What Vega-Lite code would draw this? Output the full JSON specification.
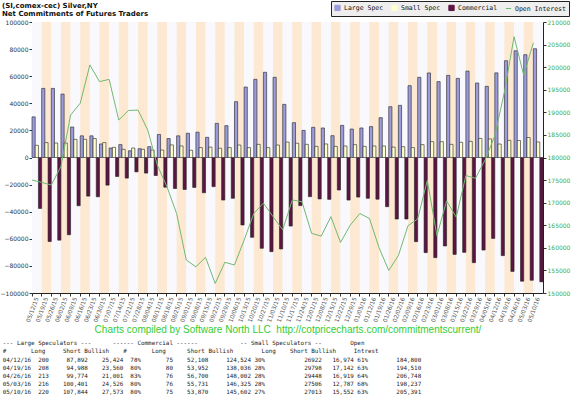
{
  "$schema": "https://vega.github.io/schema/vega-lite/v6.json",
  "width": 511,
  "height": 271,
  "autosize": "none",
  "padding": {"left": 32, "top": 22, "right": 33, "bottom": 104},
  "background": "white",
  "title": {
    "text": ["(SI,comex-cec) Silver,NY", "Net Commitments of Futures Traders"],
    "anchor": "start", "frame": "group", "dx": -30, "offset": -16.5,
    "font": "DejaVu Sans", "fontSize": 7, "fontWeight": "bold", "lineHeight": 8.5, "color": "#111"
  },
  "datasets": {
    "cot": [
      {"date": "05/12/15", "large": 30000, "small": 9000, "commercial": -37600, "oi": 175000},
      {"date": "05/19/15", "large": 51000, "small": 11000, "commercial": -62000, "oi": 174500},
      {"date": "05/26/15", "large": 51000, "small": 10700, "commercial": -61000, "oi": 173900},
      {"date": "06/02/15", "large": 46800, "small": 10700, "commercial": -57000, "oi": 178000},
      {"date": "06/09/15", "large": 22500, "small": 13400, "commercial": -35600, "oi": 189400},
      {"date": "06/16/15", "large": 16000, "small": 13400, "commercial": -28500, "oi": 192000},
      {"date": "06/23/15", "large": 16000, "small": 14000, "commercial": -29000, "oi": 200500},
      {"date": "06/30/15", "large": 10000, "small": 11000, "commercial": -20400, "oi": 196800},
      {"date": "07/07/15", "large": 7000, "small": 7500, "commercial": -14000, "oi": 197300},
      {"date": "07/14/15", "large": 9500, "small": 6000, "commercial": -15200, "oi": 188300},
      {"date": "07/21/15", "large": 5000, "small": 7000, "commercial": -10600, "oi": 190400},
      {"date": "07/28/15", "large": 6500, "small": 6000, "commercial": -11500, "oi": 190500},
      {"date": "08/04/15", "large": 8000, "small": 5500, "commercial": -13300, "oi": 186100},
      {"date": "08/11/15", "large": 17000, "small": 5500, "commercial": -21900, "oi": 178300},
      {"date": "08/18/15", "large": 14000, "small": 9300, "commercial": -22900, "oi": 173500},
      {"date": "08/25/15", "large": 16000, "small": 8500, "commercial": -23600, "oi": 167600},
      {"date": "09/01/15", "large": 17900, "small": 5300, "commercial": -22100, "oi": 157300},
      {"date": "09/08/15", "large": 18700, "small": 7300, "commercial": -26000, "oi": 155800},
      {"date": "09/15/15", "large": 14900, "small": 7700, "commercial": -21500, "oi": 157900},
      {"date": "09/22/15", "large": 25200, "small": 6800, "commercial": -31400, "oi": 152100},
      {"date": "09/29/15", "large": 23500, "small": 7300, "commercial": -30100, "oi": 156800},
      {"date": "10/06/15", "large": 41200, "small": 9200, "commercial": -49800, "oi": 156200},
      {"date": "10/13/15", "large": 52000, "small": 7300, "commercial": -58900, "oi": 161700},
      {"date": "10/20/15", "large": 57700, "small": 9700, "commercial": -67000, "oi": 167600},
      {"date": "10/27/15", "large": 62900, "small": 7300, "commercial": -69500, "oi": 169900},
      {"date": "11/03/15", "large": 59200, "small": 9200, "commercial": -67500, "oi": 166900},
      {"date": "11/10/15", "large": 39200, "small": 11400, "commercial": -50600, "oi": 164000},
      {"date": "11/17/15", "large": 25700, "small": 10500, "commercial": -35500, "oi": 170600},
      {"date": "11/24/15", "large": 20000, "small": 9700, "commercial": -28900, "oi": 170200},
      {"date": "12/01/15", "large": 22300, "small": 8200, "commercial": -30600, "oi": 163200},
      {"date": "12/08/15", "large": 21800, "small": 10000, "commercial": -30900, "oi": 162600},
      {"date": "12/15/15", "large": 16100, "small": 8200, "commercial": -24000, "oi": 166900},
      {"date": "12/22/15", "large": 23700, "small": 8500, "commercial": -31400, "oi": 161200},
      {"date": "12/29/15", "large": 21000, "small": 9500, "commercial": -29200, "oi": 165000},
      {"date": "01/05/16", "large": 21800, "small": 8200, "commercial": -30100, "oi": 167600},
      {"date": "01/12/16", "large": 22800, "small": 8500, "commercial": -30800, "oi": 166500},
      {"date": "01/19/16", "large": 29400, "small": 8500, "commercial": -36300, "oi": 160000},
      {"date": "01/26/16", "large": 37500, "small": 7700, "commercial": -45400, "oi": 155000},
      {"date": "02/02/16", "large": 38500, "small": 8000, "commercial": -45400, "oi": 158300},
      {"date": "02/09/16", "large": 53000, "small": 7300, "commercial": -62100, "oi": 164900},
      {"date": "02/16/16", "large": 59200, "small": 9500, "commercial": -70200, "oi": 166400},
      {"date": "02/23/16", "large": 62400, "small": 11700, "commercial": -73900, "oi": 174900},
      {"date": "03/01/16", "large": 56000, "small": 11700, "commercial": -65300, "oi": 162700},
      {"date": "03/08/16", "large": 60600, "small": 9700, "commercial": -71500, "oi": 170400},
      {"date": "03/15/16", "large": 58400, "small": 11200, "commercial": -70000, "oi": 166800},
      {"date": "03/22/16", "large": 63800, "small": 11900, "commercial": -77600, "oi": 176000},
      {"date": "03/29/16", "large": 55000, "small": 14100, "commercial": -68300, "oi": 175400},
      {"date": "04/05/16", "large": 52500, "small": 13700, "commercial": -59700, "oi": 179500},
      {"date": "04/12/16", "large": 62468, "small": 9948, "commercial": -72416, "oi": 184800},
      {"date": "04/19/16", "large": 71428, "small": 12656, "commercial": -84084, "oi": 194510},
      {"date": "04/26/16", "large": 78773, "small": 12529, "commercial": -91302, "oi": 206748},
      {"date": "05/03/16", "large": 75875, "small": 14719, "commercial": -90594, "oi": 198237},
      {"date": "05/10/16", "large": 80271, "small": 11461, "commercial": -91732, "oi": 205391}
    ],
    "table": [
      {"row": 0, "text": "\u00a0\u00a0\u00a0\u00a0\u00a0\u00a0\u00a0\u00a0\u00a0\u00a0\u00a0\u00a0\u00a0\u00a0\u00a0\u00a0---\u00a0Large\u00a0Speculators\u00a0---\u00a0\u00a0\u00a0\u00a0\u00a0\u00a0------\u00a0Commercial\u00a0------\u00a0\u00a0\u00a0\u00a0\u00a0\u00a0\u00a0\u00a0\u00a0\u00a0\u00a0\u00a0--\u00a0Small\u00a0Speculators\u00a0--\u00a0\u00a0\u00a0\u00a0\u00a0\u00a0\u00a0\u00a0Open"},
      {"row": 1, "text": "\u00a0\u00a0\u00a0\u00a0\u00a0\u00a0\u00a0\u00a0\u00a0\u00a0\u00a0\u00a0#\u00a0\u00a0\u00a0\u00a0\u00a0\u00a0\u00a0Long\u00a0\u00a0\u00a0\u00a0\u00a0Short\u00a0Bullish\u00a0\u00a0\u00a0\u00a0#\u00a0\u00a0\u00a0\u00a0\u00a0\u00a0\u00a0Long\u00a0\u00a0\u00a0\u00a0\u00a0\u00a0Short\u00a0Bullish\u00a0\u00a0\u00a0\u00a0\u00a0\u00a0\u00a0\u00a0Long\u00a0\u00a0\u00a0\u00a0Short\u00a0Bullish\u00a0\u00a0\u00a0\u00a0\u00a0Intrest"},
      {"row": 2, "text": "04/12/16\u00a0\u00a0200\u00a0\u00a0\u00a0\u00a0\u00a087,892\u00a0\u00a0\u00a0\u00a025,424\u00a0\u00a078%\u00a0\u00a0\u00a0\u00a0\u00a0\u00a0\u00a075\u00a0\u00a0\u00a0\u00a052,108\u00a0\u00a0\u00a0\u00a0\u00a0124,524\u00a030%\u00a0\u00a0\u00a0\u00a0\u00a0\u00a0\u00a0\u00a0\u00a0\u00a0\u00a026922\u00a0\u00a0\u00a016,974\u00a061%\u00a0\u00a0\u00a0\u00a0\u00a0\u00a0\u00a0\u00a0184,800"},
      {"row": 3, "text": "04/19/16\u00a0\u00a0208\u00a0\u00a0\u00a0\u00a0\u00a094,988\u00a0\u00a0\u00a0\u00a023,560\u00a0\u00a080%\u00a0\u00a0\u00a0\u00a0\u00a0\u00a0\u00a080\u00a0\u00a0\u00a0\u00a053,952\u00a0\u00a0\u00a0\u00a0\u00a0138,036\u00a028%\u00a0\u00a0\u00a0\u00a0\u00a0\u00a0\u00a0\u00a0\u00a0\u00a0\u00a029798\u00a0\u00a0\u00a017,142\u00a063%\u00a0\u00a0\u00a0\u00a0\u00a0\u00a0\u00a0\u00a0194,510"},
      {"row": 4, "text": "04/26/16\u00a0\u00a0213\u00a0\u00a0\u00a0\u00a0\u00a099,774\u00a0\u00a0\u00a0\u00a021,001\u00a0\u00a083%\u00a0\u00a0\u00a0\u00a0\u00a0\u00a0\u00a076\u00a0\u00a0\u00a0\u00a056,700\u00a0\u00a0\u00a0\u00a0\u00a0148,002\u00a028%\u00a0\u00a0\u00a0\u00a0\u00a0\u00a0\u00a0\u00a0\u00a0\u00a0\u00a029448\u00a0\u00a0\u00a016,919\u00a064%\u00a0\u00a0\u00a0\u00a0\u00a0\u00a0\u00a0\u00a0206,748"},
      {"row": 5, "text": "05/03/16\u00a0\u00a0216\u00a0\u00a0\u00a0\u00a0100,401\u00a0\u00a0\u00a0\u00a024,526\u00a0\u00a080%\u00a0\u00a0\u00a0\u00a0\u00a0\u00a0\u00a076\u00a0\u00a0\u00a0\u00a055,731\u00a0\u00a0\u00a0\u00a0\u00a0146,325\u00a028%\u00a0\u00a0\u00a0\u00a0\u00a0\u00a0\u00a0\u00a0\u00a0\u00a0\u00a027506\u00a0\u00a0\u00a012,787\u00a068%\u00a0\u00a0\u00a0\u00a0\u00a0\u00a0\u00a0\u00a0198,237"},
      {"row": 6, "text": "05/10/16\u00a0\u00a0220\u00a0\u00a0\u00a0\u00a0107,844\u00a0\u00a0\u00a0\u00a027,573\u00a0\u00a080%\u00a0\u00a0\u00a0\u00a0\u00a0\u00a0\u00a075\u00a0\u00a0\u00a0\u00a053,870\u00a0\u00a0\u00a0\u00a0\u00a0145,602\u00a027%\u00a0\u00a0\u00a0\u00a0\u00a0\u00a0\u00a0\u00a0\u00a0\u00a0\u00a027013\u00a0\u00a0\u00a015,552\u00a063%\u00a0\u00a0\u00a0\u00a0\u00a0\u00a0\u00a0\u00a0205,391"}
    ]
  },
  "data": {"name": "cot"},
  "config": {
    "view": {"stroke": null, "fill": "#f9f9fd"},
    "scale": {"bandPaddingInner": 0, "bandPaddingOuter": 0},
    "axis": {"labelFont": "DejaVu Sans", "labelFontSize": 6, "labelColor": "#333", "tickColor": "#333", "domainColor": "#222", "tickSize": 3, "labelPadding": 1, "labelOverlap": false},
    "axisX": {"bandPosition": 0, "labelAngle": -70, "labelAlign": "right", "labelBaseline": "middle", "labelColor": "#555", "labelFontSize": 5.8, "grid": false,
      "titleColor": "#33cc33", "titleFont": "Liberation Sans", "titleFontSize": 10, "titleFontWeight": "normal", "titlePadding": 2}
  },
  "layer": [
    {
      "layer": [
        {
          "layer": [
            {
              "transform": [
                {"window": [{"op": "row_number", "as": "idx"}]}
              ],
              "mark": {"type": "bar"},
              "encoding": {
                "x": {"field": "date", "type": "ordinal", "sort": null, "title": "Charts compiled by Software North LLC\u00a0\u00a0http://cotpricecharts.com/commitmentscurrent/"},
                "y": {"datum": 100000, "type": "quantitative", "scale": {"domain": [-100000, 100000], "nice": false},
                  "axis": {"values": [-100000, -80000, -60000, -40000, -20000, 0, 20000, 40000, 60000, 80000, 100000], "format": "d", "title": null, "grid": true, "gridColor": "#d8d8d8", "gridWidth": 0.5, "labelOverlap": false}},
                "y2": {"datum": -100000},
                "color": {"condition": {"test": "datum.idx % 2 == 0", "value": "#fde9d2"}, "value": "#f9f9fd"}
              }
            },
            {
              "transform": [
                {"fold": ["large", "small", "commercial"], "as": ["series", "net"]}
              ],
              "mark": {"type": "bar", "stroke": "#222", "strokeWidth": 0.6},
              "encoding": {
                "x": {"field": "date", "type": "ordinal", "sort": null, "title": "Charts compiled by Software North LLC\u00a0\u00a0http://cotpricecharts.com/commitmentscurrent/"},
                "xOffset": {"field": "series", "type": "nominal", "sort": ["large", "small", "commercial"]},
                "y": {"field": "net", "type": "quantitative",
                  "axis": {"values": [-100000, -80000, -60000, -40000, -20000, 0, 20000, 40000, 60000, 80000, 100000], "format": "d", "title": null, "grid": true, "gridColor": "#d8d8d8", "gridWidth": 0.5, "labelOverlap": false}},
                "color": {
                  "field": "series", "type": "nominal",
                  "scale": {"domain": ["large", "small", "commercial", "oi"], "range": ["#9c9cdc", "#ffffcc", "#5e1442", "#72b872"]},
                  "legend": {
                    "orient": "none", "legendX": 299, "legendY": -21, "direction": "horizontal", "title": null,
                    "labelFont": "DejaVu Sans Mono", "labelFontSize": 6.5, "labelColor": "#111",
                    "symbolType": "square", "symbolSize": 28, "symbolStrokeColor": "#000", "symbolStrokeWidth": 1,
                    "fillColor": "#eeeeee", "strokeColor": "#222", "padding": 3, "columnPadding": 5, "labelOffset": 3,
                    "labelExpr": "{'large':'Large Spec','small':'Small Spec','commercial':'Commercial','oi':'Open Interest'}[datum.label]",
                    "symbolOpacity": 1,
                    "encode": {"symbols": {"update": {
                      "shape": {"signal": "datum.value === 'oi' ? 'stroke' : 'square'"},
                      "stroke": {"signal": "datum.value === 'oi' ? '#72b872' : '#000'"}
                    }}}
                  }
                }
              }
            }
          ]
        },
        {
          "mark": {"type": "line", "strokeWidth": 1},
          "encoding": {
            "x": {"field": "date", "type": "ordinal", "sort": null, "bandPosition": 0, "title": "Charts compiled by Software North LLC\u00a0\u00a0http://cotpricecharts.com/commitmentscurrent/"},
            "y": {"field": "oi", "type": "quantitative", "scale": {"domain": [150000, 210000], "nice": false, "zero": false},
              "axis": {"orient": "right", "values": [150000, 155000, 160000, 165000, 170000, 175000, 180000, 185000, 190000, 195000, 200000, 205000, 210000], "format": "d", "title": null, "labelColor": "#44aa44", "grid": false, "labelOverlap": false}},
            "color": {"datum": "oi", "type": "nominal", "scale": {"domain": ["large", "small", "commercial", "oi"], "range": ["#9c9cdc", "#ffffcc", "#5e1442", "#72b872"]}}
          }
        }
      ],
      "resolve": {"scale": {"y": "independent"}}
    },
    {
      "data": {"name": "table"},
      "mark": {"type": "text", "align": "left", "baseline": "middle", "font": "DejaVu Sans Mono", "fontSize": 5.9, "color": "#222"},
      "encoding": {
        "y": {"field": "row", "type": "ordinal", "scale": {"type": "point", "range": [321.3, 370.3], "padding": 0}, "axis": null},
        "x": {"value": -29.3},
        "text": {"field": "text"}
      }
    }
  ],
  "resolve": {"scale": {"y": "independent"}}
}
